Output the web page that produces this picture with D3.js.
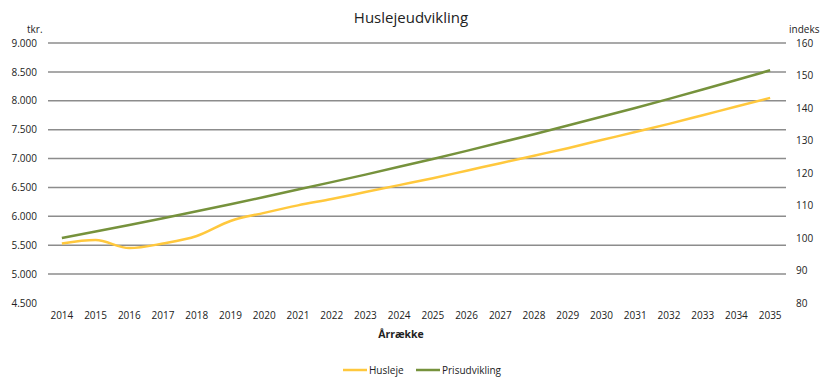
<!DOCTYPE html>
<html>
<head>
<meta charset="utf-8">
<script src="https://cdn.jsdelivr.net/npm/d3@7"></script>
<style>
  body { margin: 0; background: #fff; }
  text { font-family: "Open Sans", "Noto Sans", sans-serif; fill: #222; }
</style>
</head>
<body>
<div id="chart"></div>
<script>
var years = ['2014','2015','2016','2017','2018','2019','2020','2021','2022','2023','2024',
             '2025','2026','2027','2028','2029','2030','2031','2032','2033','2034','2035'];
// tkr., left axis
var husleje = [5530, 5590, 5450, 5530, 5660, 5920, 6060, 6190, 6300, 6420, 6540,
               6660, 6790, 6920, 7050, 7180, 7320, 7460, 7600, 7750, 7900, 8050];
// indeks, right axis
var prisudvikling = [100, 102, 104.0, 106.1, 108.2, 110.4, 112.6, 114.9, 117.2, 119.5, 121.9,
                     124.3, 126.8, 129.4, 131.9, 134.6, 137.3, 140.0, 142.8, 145.7, 148.6, 151.6];
var leftTicks = [4500, 5000, 5500, 6000, 6500, 7000, 7500, 8000, 8500, 9000];
var rightTicks = [80, 90, 100, 110, 120, 130, 140, 150, 160];

var width = 821, height = 383;
var plotLeft = 45, plotRight = 787, plotTop = 43, plotBottom = 303;

var svg = d3.select('#chart').append('svg')
    .attr('width', width)
    .attr('height', height);

var x = d3.scaleBand().domain(years).range([plotLeft, plotRight]);
var yL = d3.scaleLinear().domain([4500, 9000]).range([plotBottom, plotTop]);
var yR = d3.scaleLinear().domain([80, 160]).range([plotBottom, plotTop]);

var fmt = function(d) { return d3.format(',')(d).replace(',', '.'); };

// gridlines (none at the bottom value)
svg.append('g').selectAll('line')
    .data(leftTicks.filter(function(d) { return d > 4500; }))
    .enter().append('line')
    .attr('x1', plotLeft + 3).attr('x2', plotRight - 1)
    .attr('y1', function(d) { return yL(d); })
    .attr('y2', function(d) { return yL(d); })
    .attr('stroke', '#8c8c8c')
    .attr('stroke-width', 1.5);

// left axis
var axL = svg.append('g')
    .attr('transform', 'translate(' + (plotLeft - 8) + ',0)')
    .call(d3.axisLeft(yL).tickValues(leftTicks).tickFormat(fmt).tickSize(0).tickPadding(0));
axL.select('.domain').remove();
axL.selectAll('text').style('font-size', '10px').style('font-family', '"Open Sans", sans-serif').attr('fill', '#222');

// right axis
var axR = svg.append('g')
    .attr('transform', 'translate(' + (plotRight + 9) + ',0)')
    .call(d3.axisRight(yR).tickValues(rightTicks).tickSize(0).tickPadding(0));
axR.select('.domain').remove();
axR.selectAll('text').style('font-size', '10px').style('font-family', '"Open Sans", sans-serif').attr('fill', '#222');

// x axis labels
var axX = svg.append('g')
    .attr('transform', 'translate(0,' + (plotBottom + 9) + ')')
    .call(d3.axisBottom(x).tickSize(0).tickPadding(0));
axX.select('.domain').remove();
axX.selectAll('text').style('font-size', '10px').style('font-family', '"Open Sans", sans-serif').attr('fill', '#222');

// lines
var lineL = d3.line()
    .x(function(d, i) { return x(years[i]) + x.bandwidth() / 2; })
    .y(function(d) { return yL(d); })
    .curve(d3.curveMonotoneX);
var lineR = d3.line()
    .x(function(d, i) { return x(years[i]) + x.bandwidth() / 2; })
    .y(function(d) { return yR(d); });

svg.append('path')
    .datum(husleje)
    .attr('d', lineL)
    .attr('fill', 'none')
    .attr('stroke', '#ffc83d')
    .attr('stroke-width', 2.5);

svg.append('path')
    .datum(prisudvikling)
    .attr('d', lineR)
    .attr('fill', 'none')
    .attr('stroke', '#76923c')
    .attr('stroke-width', 2.5);

// title and axis titles
svg.append('text')
    .attr('x', 411).attr('y', 23)
    .attr('text-anchor', 'middle')
    .style('font-size', '15px')
    .text('Huslejeudvikling');

svg.append('text')
    .attr('x', 27).attr('y', 33)
    .style('font-size', '10px')
    .text('tkr.');

svg.append('text')
    .attr('x', 789).attr('y', 33)
    .style('font-size', '10px')
    .text('indeks');

svg.append('text')
    .attr('x', 401).attr('y', 338)
    .attr('text-anchor', 'middle')
    .style('font-size', '10.5px')
    .style('font-weight', 'bold')
    .text('Årrække');

// legend
var legend = [
    { label: 'Husleje', color: '#ffc83d', x: 343 },
    { label: 'Prisudvikling', color: '#76923c', x: 416 }
];
var lg = svg.selectAll('.legend')
    .data(legend)
    .enter().append('g')
    .attr('class', 'legend')
    .attr('transform', function(d) { return 'translate(' + d.x + ',370)'; });
lg.append('line')
    .attr('x1', 0).attr('x2', 24)
    .attr('stroke', function(d) { return d.color; })
    .attr('stroke-width', 2.5);
lg.append('text')
    .attr('x', 26).attr('y', 3.5)
    .style('font-size', '10px')
    .text(function(d) { return d.label; });
</script>
</body>
</html>
